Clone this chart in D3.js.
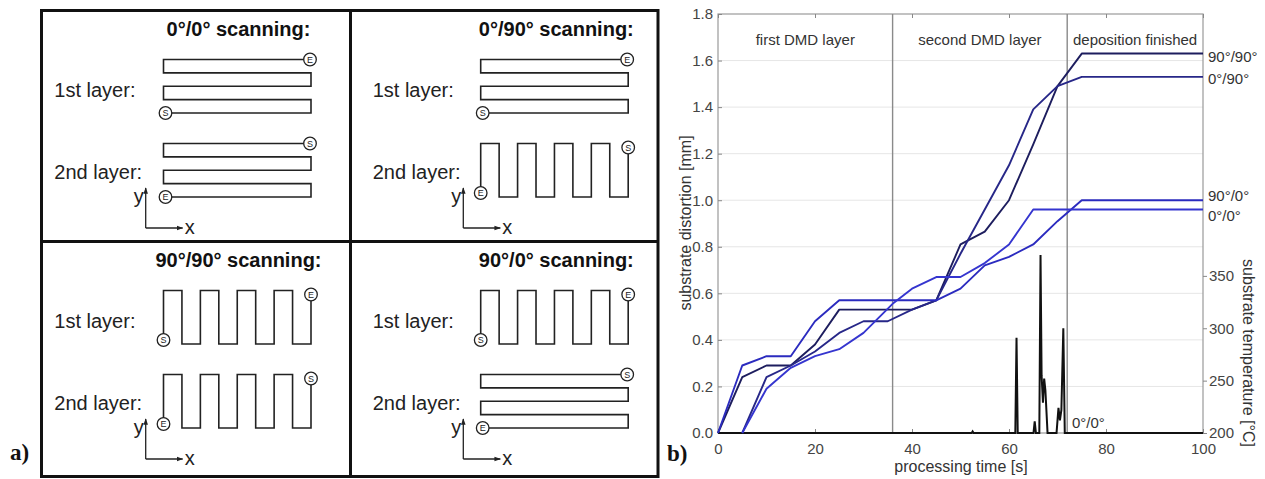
<!DOCTYPE html>
<html>
<head>
<meta charset="utf-8">
<script src="https://cdn.jsdelivr.net/npm/d3@7"></script>
<style>
body{margin:0;background:#fff}
svg{display:block;font-family:"Liberation Sans",Arial,sans-serif}
</style>
</head>
<body>
<svg id="fig" width="1265" height="479"></svg>
<script>
// ---------- data: panel b) ----------
var seriesNames = ["90°/90°", "0°/90°", "90°/0°", "0°/0°"]
var seriesColors = ["#1d1d5e", "#272788", "#2b2bbf", "#3535cf"]

// processing time [s] / substrate distortion [mm]
var t9090 = [0, 5, 10, 15, 20, 25, 40, 45, 50, 55, 60, 65, 70, 75, 100]
var d9090 = [0, 0.24, 0.29, 0.29, 0.38, 0.53, 0.53, 0.57, 0.81, 0.865, 1.0, 1.24, 1.49, 1.63, 1.63]
var t090 = [5, 10, 15, 20, 25, 30, 35, 40, 45, 50, 55, 60, 65, 70, 75, 100]
var d090 = [0, 0.24, 0.29, 0.35, 0.43, 0.48, 0.48, 0.53, 0.57, 0.77, 0.96, 1.15, 1.39, 1.49, 1.53, 1.53]
var t900 = [0, 5, 10, 15, 20, 25, 45, 50, 55, 60, 65, 70, 75, 100]
var d900 = [0, 0.29, 0.33, 0.33, 0.48, 0.57, 0.57, 0.62, 0.72, 0.757, 0.81, 0.91, 1.0, 1.0]
var t00 = [5, 10, 15, 20, 25, 30, 36, 40, 45, 50, 55, 60, 65, 100]
var d00 = [0, 0.19, 0.28, 0.33, 0.36, 0.43, 0.555, 0.62, 0.67, 0.67, 0.73, 0.81, 0.96, 0.96]

// substrate temperature [°C] for 0°/0°
var tempTime = [0, 52.3, 52.5, 52.7, 61.3, 61.55, 61.8, 65.05, 65.3, 65.55, 66.25, 66.5, 66.72, 67.0, 67.25, 67.5, 67.95, 69.8, 70.2, 70.5, 70.8, 71.2, 71.5, 100]
var tempVal = [200, 200, 201.5, 200, 200, 291, 200, 200, 211, 200, 200, 370, 255, 229, 252, 241, 200, 200, 224, 212, 222, 300, 200, 200]

var timeTicks = [0, 20, 40, 60, 80, 100]
var distTicks = [0, 0.2, 0.4, 0.6, 0.8, 1.0, 1.2, 1.4, 1.6, 1.8]
var tempTicks = [200, 250, 300, 350]
var phaseBounds = [0, 36, 72, 100]
var phaseNames = ["first DMD layer", "second DMD layer", "deposition finished"]

// ---------- data: panel a) ----------
var scanTitles = ["0°/0° scanning:", "0°/90° scanning:", "90°/90° scanning:", "90°/0° scanning:"]
var scanLayers = [["h", "h"], ["h", "v"], ["v", "v"], ["v", "h"]]
var layerNames = ["1st layer:", "2nd layer:"]

var svg = d3.select("#fig")
var ink = "#222"

// ================= panel a) =================
var defs = svg.append("defs")
defs.append("marker").attr("id", "arr")
  .attr("viewBox", "0 0 10 10").attr("refX", 9).attr("refY", 5)
  .attr("markerWidth", 5).attr("markerHeight", 5).attr("orient", "auto")
  .append("path").attr("d", "M0,1.5L10,5L0,8.5Z").attr("fill", ink)

var pa = svg.append("g")
pa.append("rect").attr("x", 41.5).attr("y", 10.5).attr("width", 616.5).attr("height", 466)
  .attr("fill", "none").attr("stroke", "#111").attr("stroke-width", 3)
pa.append("line").attr("x1", 350.5).attr("x2", 350.5).attr("y1", 10.5).attr("y2", 476.5)
  .attr("stroke", "#111").attr("stroke-width", 3)
pa.append("line").attr("x1", 41.5).attr("x2", 658).attr("y1", 241.5).attr("y2", 241.5)
  .attr("stroke", "#111").attr("stroke-width", 3)

// raster with 5 horizontal passes, bottom-left -> top-right
function rasterPts(x0, x1, top, bot) {
  var s = (bot - top) / 4, p = []
  for (var i = 0; i < 5; i++) {
    var yy = bot - i * s
    if (i % 2 == 0) p.push([x0, yy], [x1, yy]); else p.push([x1, yy], [x0, yy])
  }
  return p
}
// meander with 9 vertical passes, bottom-left -> top-right
function meanderPts(x0, x1, top, bot) {
  var s = (x1 - x0) / 8, p = []
  for (var i = 0; i < 9; i++) {
    var xx = x0 + i * s
    if (i % 2 == 0) p.push([xx, bot], [xx, top]); else p.push([xx, top], [xx, bot])
  }
  return p
}

function marker(g, cx, cy, letter) {
  g.append("circle").attr("cx", cx).attr("cy", cy).attr("r", 6.3)
    .attr("fill", "#fff").attr("stroke", ink).attr("stroke-width", 1.3)
  g.append("text").attr("x", cx).attr("y", cy + 3.3).attr("text-anchor", "middle")
    .attr("font-size", 9).attr("fill", ink).text(letter)
}

var colX = [41, 350], rowY = [10, 241]
var diagX = [122.5, 130.7], labX = [13.3, 22.7], titleX = [197.5, 206.3], axX = [104.7, 113.3]
var layerTop = [49.5, 133.5], layerBot = [103, 187], layerBase = [86.7, 168.5]
var lineGen = d3.line()

scanTitles.forEach(function (title, qi) {
  var c = qi % 2, r = Math.floor(qi / 2)
  var g = pa.append("g").attr("transform", "translate(" + colX[c] + "," + rowY[r] + ")")
  g.append("text").attr("x", titleX[c]).attr("y", 25.5).attr("text-anchor", "middle")
    .attr("font-size", 20).attr("font-weight", "bold").attr("fill", "#111").text(title)
  scanLayers[qi].forEach(function (kind, li) {
    g.append("text").attr("x", labX[c]).attr("y", layerBase[li])
      .attr("font-size", 20).attr("fill", ink).text(layerNames[li])
    var x0 = diagX[c], x1 = diagX[c] + 147.5
    var pts = kind == "h" ? rasterPts(x0, x1, layerTop[li], layerBot[li]) : meanderPts(x0, x1, layerTop[li], layerBot[li])
    g.append("path").attr("d", lineGen(pts)).attr("fill", "none")
      .attr("stroke", ink).attr("stroke-width", 1.6)
    var a = pts[0], b = pts[pts.length - 1]
    var dx = kind == "h" ? 2 : 0, dy = kind == "h" ? 0 : 4
    var first = li == 0 ? "S" : "E", last = li == 0 ? "E" : "S"
    marker(g, a[0] + dx, a[1] - dy, first)
    marker(g, b[0] - dx / 2, b[1] + dy, last)
  })
  // coordinate arrows
  var ax = axX[c]
  g.append("line").attr("x1", ax).attr("y1", 218).attr("x2", ax).attr("y2", 178)
    .attr("stroke", ink).attr("stroke-width", 1.3).attr("marker-end", "url(#arr)")
  g.append("line").attr("x1", ax).attr("y1", 218).attr("x2", ax + 37).attr("y2", 218)
    .attr("stroke", ink).attr("stroke-width", 1.3).attr("marker-end", "url(#arr)")
  g.append("text").attr("x", ax - 2).attr("y", 193).attr("text-anchor", "end")
    .attr("font-size", 20).attr("fill", ink).text("y")
  g.append("text").attr("x", ax + 39).attr("y", 224)
    .attr("font-size", 20).attr("fill", ink).text("x")
})

svg.append("text").attr("x", 10).attr("y", 460).attr("font-family", "'Liberation Serif',serif")
  .attr("font-weight", "bold").attr("font-size", 23).attr("fill", "#111").text("a)")

// ================= panel b) =================
var x = d3.scaleLinear().domain([0, 100]).range([718, 1203])
var y = d3.scaleLinear().domain([0, 1.8]).range([433, 14])
var yT = d3.scaleLinear().domain([200, 600]).range([433, 14])

var pb = svg.append("g")

// horizontal grid
pb.selectAll(".grid").data(distTicks.slice(1, -1)).enter().append("line")
  .attr("x1", x(0)).attr("x2", x(100))
  .attr("y1", function (d) { return y(d) }).attr("y2", function (d) { return y(d) })
  .attr("stroke", "#e6e6e6").attr("stroke-width", 1)

// frame
pb.append("rect").attr("x", x(0)).attr("y", y(1.8)).attr("width", x(100) - x(0)).attr("height", y(0) - y(1.8))
  .attr("fill", "none").attr("stroke", "#9a9a9a").attr("stroke-width", 1.2)

function styleAxis(sel) {
  sel.select(".domain").remove()
  sel.selectAll(".tick line").attr("stroke", "#888")
  sel.selectAll(".tick text").attr("fill", "#444").attr("font-size", 15)
    .attr("font-family", "'Liberation Sans',Arial,sans-serif")
}

pb.append("g").attr("transform", "translate(" + x(0) + ",0)")
  .call(d3.axisLeft(y).tickValues(distTicks).tickFormat(d3.format(".1f")).tickSizeInner(-4).tickSizeOuter(0).tickPadding(5))
  .call(styleAxis)
pb.append("g").attr("transform", "translate(0," + y(0) + ")")
  .call(d3.axisBottom(x).tickValues(timeTicks).tickSizeInner(-4).tickSizeOuter(0).tickPadding(10))
  .call(styleAxis)
pb.append("g").attr("transform", "translate(0," + y(1.8) + ")")
  .call(d3.axisTop(x).tickValues(timeTicks).tickSizeInner(-4).tickSizeOuter(0).tickFormat(""))
  .call(styleAxis)
pb.append("g").attr("transform", "translate(" + x(100) + ",0)")
  .call(d3.axisRight(yT).tickValues(tempTicks).tickSizeInner(4).tickSizeOuter(0).tickPadding(2))
  .call(styleAxis)

// phase separators and labels
pb.selectAll(".phase").data(phaseBounds.slice(1, -1)).enter().append("line")
  .attr("x1", function (d) { return x(d) }).attr("x2", function (d) { return x(d) })
  .attr("y1", y(1.8)).attr("y2", y(0))
  .attr("stroke", "#8a8a8a").attr("stroke-width", 1.4)
pb.selectAll(".phaseLab").data(phaseNames).enter().append("text")
  .attr("x", function (d, i) { return (x(phaseBounds[i]) + x(phaseBounds[i + 1])) / 2 })
  .attr("y", 45).attr("text-anchor", "middle").attr("font-size", 15).attr("fill", "#333")
  .text(function (d) { return d })

// temperature trace
var tempPts = tempTime.map(function (t, i) { return [t, tempVal[i]] })
pb.append("path").datum(tempPts)
  .attr("d", d3.line().x(function (d) { return x(d[0]) }).y(function (d) { return yT(d[1]) }))
  .attr("fill", "none").attr("stroke", "#111").attr("stroke-width", 2)
pb.append("text").attr("x", 1072).attr("y", 428).attr("font-size", 15).attr("fill", "#333").text("0°/0°")

// distortion curves
var curves = [[t9090, d9090], [t090, d090], [t900, d900], [t00, d00]]
var distLine = d3.line().x(function (d) { return x(d[0]) }).y(function (d) { return y(d[1]) })
curves.forEach(function (c, i) {
  var pts = c[0].map(function (t, j) { return [t, c[1][j]] })
  pb.append("path").datum(pts).attr("d", distLine)
    .attr("fill", "none").attr("stroke", seriesColors[i]).attr("stroke-width", 1.9)
    .attr("stroke-linejoin", "round")
})

// end labels
var labelY = [61.5, 84, 201, 220.5]
pb.selectAll(".endLab").data(seriesNames).enter().append("text")
  .attr("x", 1208).attr("y", function (d, i) { return labelY[i] })
  .attr("font-size", 15).attr("fill", "#333").text(function (d) { return d })

// axis titles
pb.append("text").attr("transform", "translate(691,223) rotate(-90)").attr("text-anchor", "middle")
  .attr("font-size", 16).attr("fill", "#333").text("substrate distortion [mm]")
pb.append("text").attr("transform", "translate(1243,353) rotate(90)").attr("text-anchor", "middle")
  .attr("font-size", 16).attr("fill", "#333").text("substrate temperature [°C]")
pb.append("text").attr("x", 961).attr("y", 472).attr("text-anchor", "middle")
  .attr("font-size", 16).attr("fill", "#333").text("processing time [s]")

svg.append("text").attr("x", 667).attr("y", 461).attr("font-family", "'Liberation Serif',serif")
  .attr("font-weight", "bold").attr("font-size", 23).attr("fill", "#111").text("b)")
</script>
</body>
</html>
